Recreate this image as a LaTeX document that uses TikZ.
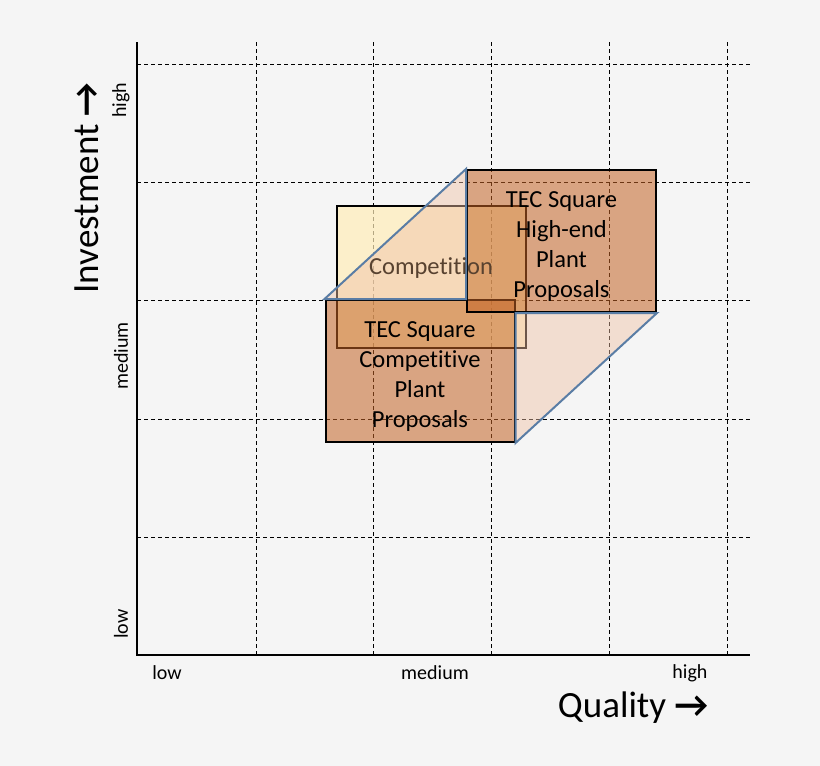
\documentclass[tikz,border=0pt]{standalone}
\usepackage{fontspec}
\setmainfont{Carlito}[Ligatures=NoCommon]
\definecolor{bgc}{RGB}{245,245,245}
\definecolor{compfill}{RGB}{255,237,185}
\definecolor{tecfill}{RGB}{195,98,36}
\definecolor{pinkfill}{RGB}{240,192,165}
\definecolor{edgeblue}{RGB}{90,125,165}
\definecolor{comptext}{RGB}{88,66,48}
\tikzset{
  gridline/.style={black, line width=0.8pt, dash pattern=on 4pt off 3pt},
  axisline/.style={black, line width=1.2pt},
  compbox/.style={draw=black, line width=2pt, fill=compfill, fill opacity=0.7, inner sep=0pt, minimum width=189pt, minimum height=142pt},
  tecbox/.style={draw=black, line width=2pt, fill=tecfill, fill opacity=0.55, draw opacity=1, inner sep=0pt, minimum width=189pt, minimum height=142pt},
  facetri/.style={draw=edgeblue, line width=2pt, fill=pinkfill, fill opacity=0.45, line join=miter},
  boxtext/.style={align=center, font=\fontsize{24.5}{30}\selectfont, inner sep=0pt},
  ticklabel/.style={font=\fontsize{20}{24}\selectfont, inner sep=0pt},
  axistitle/.style={font=\fontsize{37}{44}\selectfont, inner sep=0pt}
}
\begin{document}
\begin{tikzpicture}[x=1pt,y=-1pt]
\useasboundingbox (0,0) rectangle (820,766);
\fill[bgc] (0,0) rectangle (820,766);
% grid
\foreach \x in {256,373,491,609,727} \draw[gridline] (\x,42) -- (\x,655);
\foreach \y in {64,182,300,419,537} \draw[gridline] (137,\y) -- (750,\y);
% axes
\coordinate (ytop) at (137,42);
\coordinate (orig) at (137,655);
\coordinate (xend) at (750,655);
\draw[axisline] (ytop) -- (orig) -- (xend);
% competition box
\node[compbox] (comp) at (431.5,277) {};
% TEC boxes
\node[tecbox] (cv) at (420,371) {};
\node[tecbox] (he) at (561.5,241) {};
\node[boxtext] (cvtxt) at (420,377) {TEC Square\\Competitive\\Plant\\Proposals};
\node[boxtext] (hetxt) at (561.5,247) {TEC Square\\High-end\\Plant\\Proposals};
% cube faces
\draw[facetri] (cv.north west) -- (he.north west) -- (he.north west |- cv.north west) -- cycle;
\draw[facetri] (cv.north east |- he.south) -- (he.south east) -- (cv.south east) -- cycle;
\node[boxtext, text=comptext] (comptxt) at (431,268) {Competition};
% tick labels
\node[ticklabel] (xlow) at (167,673) {low};
\node[ticklabel] (xmed) at (435,673) {medium};
\node[ticklabel] (xhigh) at (690,673) {high};
\node[ticklabel, rotate=90] (ylow) at (121,624) {low};
\node[ticklabel, rotate=90] (ymed) at (121,356) {medium};
\node[ticklabel, rotate=90] (yhigh) at (121,100) {high};
% axis titles
\node[axistitle] (xtitle) at (633,708) {Quality {\bfseries →}};
\node[axistitle, rotate=90] (ytitle) at (87,188) {Investment {\bfseries →}};
\end{tikzpicture}
\end{document}
